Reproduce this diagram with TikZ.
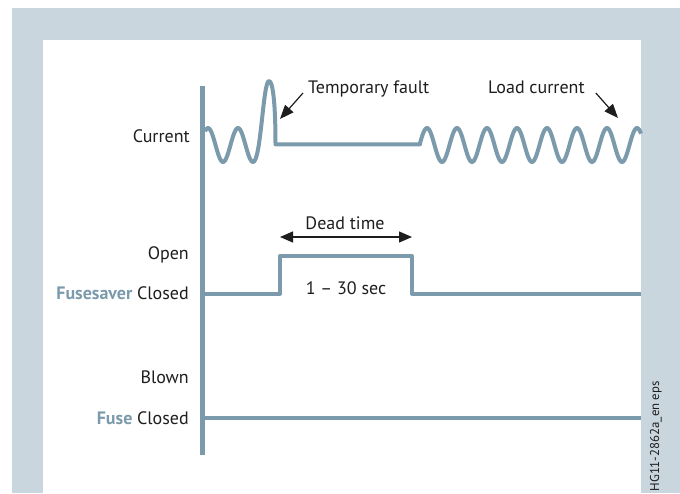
\documentclass[tikz,border=0pt]{standalone}
\usepackage{fontspec}
\setmainfont{PT Sans}
\usetikzlibrary{arrows.meta}
\definecolor{frame}{HTML}{C9D6DE}
\definecolor{trace}{HTML}{7B9BAD}
\definecolor{ink}{HTML}{1E1E1E}

\begin{document}
\begin{tikzpicture}[x=1pt, y=-1pt,
    lbl/.style={inner sep=0pt, text=ink, font=\fontsize{18}{21}\selectfont},
    signal/.style={draw=trace, line width=4, line join=round},
    pointer/.style={draw=ink, line width=1.2, -{Triangle[length=14pt, width=11pt]}},
    span/.style={draw=ink, line width=1.2, {Triangle[length=13pt, width=11pt]}-{Triangle[length=13pt, width=11pt]}}]
\useasboundingbox (0,0) rectangle (680,493);
\fill[frame] (12,8) rectangle (680,493);
\fill[white] (43,40) rectangle (641,493);

\draw[signal] plot[domain=205:253, samples=49] (\x,{145-17*cos(12*(\x-208))})
    .. controls (261,162) and (263,81) .. (269,81)
    .. controls (273,81) and (275.5,105) .. (275.5,144.3)
    -- (420,144.3)
    -- plot[domain=420:641, samples=222] (\x,{145-17*cos(12*(\x-427))});
\coordinate (rise) at (280,256);
\coordinate (fall) at (412,256);
\draw[signal] (205,293.5) -- (280,293.5) -- (rise) -- (fall) -- (412,293.5) -- (641,293.5);
\draw[signal] (205,418) -- (641,418);
\draw[trace, line width=5] (202.5,86) -- (202.5,455);

\node[lbl, anchor=base east] (current) at (190,142.7) {Current};
\node[lbl, anchor=base east] (open) at (189,259.5) {Open};
\node[lbl, anchor=base east] (fsclosed) at (189,299) {\textcolor{trace}{\bfseries Fusesaver} Closed};
\node[lbl, anchor=base east] (blown) at (189,383.3) {Blown};
\node[lbl, anchor=base east] (fuseclosed) at (189,424.3) {\textcolor{trace}{\bfseries Fuse} Closed};

\node[lbl, anchor=base west] (fault) at (308,93) {Temporary fault};
\node[lbl, anchor=base west] (load) at (488,93) {Load current};
\coordinate (faulttip) at (280,119);
\coordinate (loadtip) at (618,118);
\draw[pointer] ([shift={(-5,0)}]fault.base west) -- (faulttip);
\draw[pointer] ([shift={(11,0)}]load.base east) -- (loadtip);

\draw[span] ([yshift=19pt]rise) -- ([yshift=19pt]fall);
\node[lbl, anchor=base] (dead) at (345,229.3) {Dead time};
\node[lbl, anchor=base] (sec) at (346,294.3) {1 – 30 sec};

\node[inner sep=0pt, text=ink, font=\fontsize{12.8}{15}\selectfont, rotate=90, anchor=base east] (code) at (659,381) {HG11-2862a\_en eps};
\end{tikzpicture}
\end{document}
